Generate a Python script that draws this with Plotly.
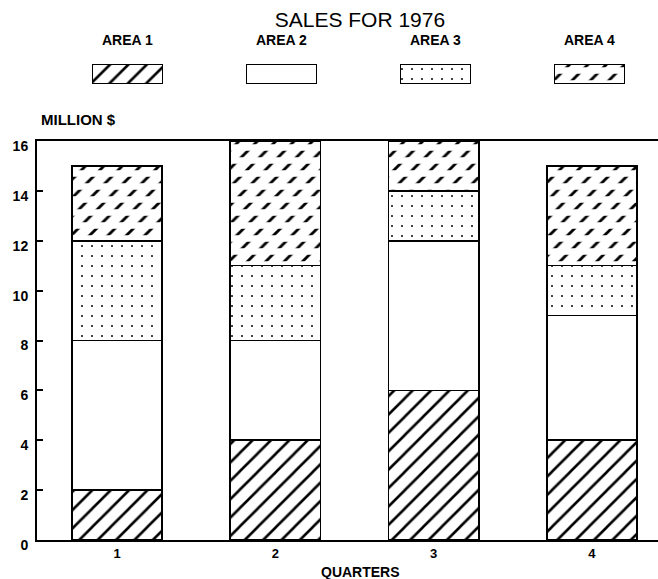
import numpy as np
import plotly.graph_objects as go

# ---------------- data ----------------
quarters = [1, 2, 3, 4]
quarter_labels = ["1", "2", "3", "4"]
area1 = [2, 4, 6, 4]
area2 = [6, 4, 6, 5]
area3 = [4, 3, 2, 2]
area4 = [3, 5, 2, 4]
series_names = ["AREA 1", "AREA 2", "AREA 3", "AREA 4"]
y_ticks = [0, 2, 4, 6, 8, 10, 12, 14, 16]
y_tick_labels = ["0", "2", "4", "6", "8", "10", "12", "14", "16"]

title_text = "SALES FOR 1976"
y_label = "MILLION $"
x_label = "QUARTERS"

# ---------------- styles ----------------
FONT = "Liberation Sans"
LINE = dict(color="black", width=1.6)
BAR_W = 0.57
SWATCH_W = 0.4545

patterns = [
    dict(shape="/", size=13, solidity=0.2, fgcolor="black", bgcolor="white", fillmode="replace"),
    dict(shape="", bgcolor="white"),
    dict(shape=".", size=10, solidity=0.03, fgcolor="black", bgcolor="white", fillmode="replace"),
    dict(shape="/", size=13, solidity=0.22, fgcolor="black", bgcolor="white", fillmode="replace"),
]
breaker = dict(shape="-", size=13, solidity=0.5, fgcolor="white",
               bgcolor="rgba(0,0,0,0)", fillmode="replace")

series = [area1, area2, area3, area4]

fig = go.Figure()

# main stacked bars
for name, vals, pat in zip(series_names, series, patterns):
    fig.add_trace(go.Bar(
        x=quarters, y=vals, name=name, width=BAR_W,
        marker=dict(color="white", line=LINE, pattern=pat),
        hoverinfo="skip", showlegend=False,
    ))

# break the AREA 4 diagonals into dashes
base4 = (np.array(area1) + np.array(area2) + np.array(area3)).tolist()
fig.add_trace(go.Bar(
    x=quarters, y=area4, base=base4, width=BAR_W,
    marker=dict(color="white", line=LINE, pattern=breaker),
    hoverinfo="skip", showlegend=False,
))

# legend swatches (separate hidden axes above the plot)
legend_pos = list(range(1, len(series_names) + 1))
for pos, name, pat in zip(legend_pos, series_names, patterns):
    fig.add_trace(go.Bar(
        x=[pos], y=[1], xaxis="x2", yaxis="y2", width=SWATCH_W,
        marker=dict(color="white", line=LINE, pattern=pat),
        hoverinfo="skip", showlegend=False,
    ))
fig.add_trace(go.Bar(
    x=[legend_pos[3]], y=[1], base=[0], xaxis="x2", yaxis="y2", width=SWATCH_W,
    marker=dict(color="white", line=LINE, pattern=breaker),
    hoverinfo="skip", showlegend=False,
))

annotations = []
for pos, name in zip(legend_pos, series_names):
    annotations.append(dict(
        x=pos, xref="x2", y=0.9615, yref="paper", text=name, showarrow=False,
        xanchor="center", yanchor="middle",
        font=dict(family=FONT, size=14, color="black", weight="bold"),
    ))
annotations.append(dict(
    x=0.0676, xref="paper", y=0.8096, yref="paper", text=y_label, showarrow=False,
    xanchor="center", yanchor="middle",
    font=dict(family=FONT, size=15, color="black", weight="bold"),
))
annotations.append(dict(
    x=0.5217, xref="paper", y=-0.0615, yref="paper", text=x_label, showarrow=False,
    xanchor="center", yanchor="middle",
    font=dict(family=FONT, size=14, color="black", weight="bold"),
))

fig.update_layout(
    width=658, height=579,
    margin=dict(l=37, r=0, t=20, b=39),
    paper_bgcolor="white", plot_bgcolor="white",
    barmode="stack", showlegend=False, hovermode=False,
    title=dict(text=title_text, x=0.547, xref="container", xanchor="center",
               y=0.9655, yref="container", yanchor="middle",
               font=dict(family=FONT, size=21, color="black")),
    annotations=annotations,
    xaxis=dict(
        domain=[0, 1], range=[0.4946, 4.4176],
        tickvals=quarters, ticktext=quarter_labels, ticks="",
        showline=True, linewidth=2, linecolor="black", mirror=True,
        showgrid=False, zeroline=False, ticklabelstandoff=0,
        tickfont=dict(family=FONT, size=13, color="black", weight="bold"),
    ),
    yaxis=dict(
        domain=[0, 0.7673], range=[0, 16],
        tickvals=y_ticks, ticktext=y_tick_labels,
        ticks="inside", ticklen=6, tickwidth=2, tickcolor="black",
        showline=True, linewidth=2, linecolor="black",
        showgrid=False, zeroline=False,
        ticklabelshift=5, ticklabelstandoff=4,
        tickfont=dict(family=FONT, size=14, color="black", weight="bold"),
    ),
    xaxis2=dict(domain=[0, 1], range=[0.4123, 4.4448], anchor="y2", visible=False),
    yaxis2=dict(domain=[0.8769, 0.9154], range=[0, 1], anchor="x2", visible=False),
)

fig.write_html(
    "out.html",
    config={"displayModeBar": False, "staticPlot": True},
    post_script="document.body.style.margin='0';document.body.style.overflow='hidden';",
)
